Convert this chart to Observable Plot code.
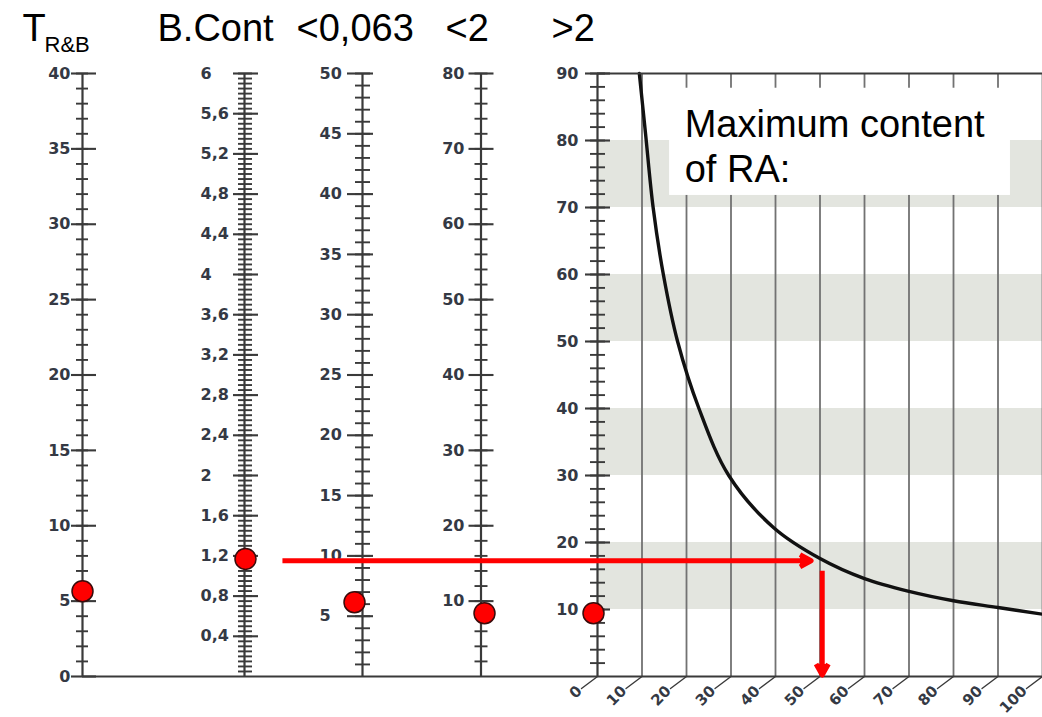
<!DOCTYPE html>
<html>
<head>
<meta charset="utf-8">
<script src="https://cdn.jsdelivr.net/npm/d3@7"></script>
<script src="https://cdn.jsdelivr.net/npm/@observablehq/plot@0.6"></script>
<style>
  html, body { margin: 0; padding: 0; background: #fff; }
  #chart { position: relative; width: 1042px; height: 717px; overflow: hidden; background: #fff; }
  #chart svg { position: absolute; left: 0; top: 0; background: transparent !important; overflow: visible; }
</style>
</head>
<body>
<div id="chart"></div>
<script>
// ---------------- data ----------------
const columnTitles = ["T", "B.Cont", "<0,063", "<2", ">2"];
const columnSubtitle = "R&B";

const tValues = [0, 5, 10, 15, 20, 25, 30, 35, 40];
const tLabels = ["0", "5", "10", "15", "20", "25", "30", "35", "40"];
const bContValues = [0.4, 0.8, 1.2, 1.6, 2, 2.4, 2.8, 3.2, 3.6, 4, 4.4, 4.8, 5.2, 5.6, 6];
const bContLabels = ["0,4", "0,8", "1,2", "1,6", "2", "2,4", "2,8", "3,2", "3,6", "4", "4,4", "4,8", "5,2", "5,6", "6"];
const finesValues = [5, 10, 15, 20, 25, 30, 35, 40, 45, 50];
const finesLabels = ["5", "10", "15", "20", "25", "30", "35", "40", "45", "50"];
const sandValues = [10, 20, 30, 40, 50, 60, 70, 80];
const sandLabels = ["10", "20", "30", "40", "50", "60", "70", "80"];
const gravelValues = [10, 20, 30, 40, 50, 60, 70, 80, 90];
const gravelLabels = ["10", "20", "30", "40", "50", "60", "70", "80", "90"];

const axisMax = [40, 6, 50, 80, 90];
const minorStep = [1, 0.05, 1, 2, 2];
const pointValues = [5.66, 1.17, 6.16, 8.4, 9.45];

const raTicks = [0, 10, 20, 30, 40, 50, 60, 70, 80, 90, 100];
const raLabels = ["0", "10", "20", "30", "40", "50", "60", "70", "80", "90", "100"];
const bandLow = [10, 30, 50, 70];
const bandHigh = [20, 40, 60, 80];

const curveRA = [9.4, 10.8, 12.5, 14.8, 18.0, 22.8, 29.5, 39.6, 50, 60, 70, 80, 90, 100];
const curveMax = [90, 81, 70, 60, 50, 40, 30, 22.2, 17.6, 14.6, 12.7, 11.3, 10.3, 9.3];

const arrowX1 = [-70.8, 50.5];
const arrowY1 = [17.27, 15.8];
const arrowX2 = [48.0, 50.5];
const arrowY2 = [17.27, 0.2];

const boxText = "Maximum content\nof RA:";

// ---------------- layout ----------------
const W = 1042, H = 717, TOP = 73, BOTTOM = 41;
const LABEL_COLOR = "#343944";
const AXIS_COLOR = "#3a3a3a";
const labelFont = {fontFamily: "DejaVu Sans, sans-serif", fontSize: 16, fontWeight: "bold"};
const titleFont = {fontFamily: "Liberation Sans, Arial, sans-serif", fontSize: 38, fontWeight: "normal"};

const columns = [
  {values: tValues, labels: tLabels, axis: 82, majorL: -11, majorR: 14, minorL: -6, minorR: 6,
   labelAnchor: "end", labelDx: -1, titleDx: -49, dotDx: 0},
  {values: bContValues, labels: bContLabels, axis: 244, majorL: -11, majorR: 14, minorL: -6, minorR: 8,
   labelAnchor: "start", labelDx: -33, titleDx: -76, dotDx: 1},
  {values: finesValues, labels: finesLabels, axis: 362, majorL: -15, majorR: 11, minorL: -7, minorR: 8,
   labelAnchor: "start", labelDx: -28, titleDx: -51, dotDx: -8},
  {values: sandValues, labels: sandLabels, axis: 480.5, majorL: -12, majorR: 13, minorL: -6, minorR: 7,
   labelAnchor: "end", labelDx: -4.5, titleDx: -23.5, dotDx: 3.5},
  {values: gravelValues, labels: gravelLabels, axis: 597, majorL: -12, majorR: 13, minorL: -7, minorR: 8,
   labelAnchor: "end", labelDx: -7, titleDx: -34, dotDx: -4}
];

const chart = document.getElementById("chart");
const svgStyle = {position: "absolute", left: "0px", top: "0px", background: "transparent", overflow: "visible"};

// ---------------- main RA panel (background) ----------------
const mainScales = {
  width: W, height: H, marginTop: TOP, marginBottom: BOTTOM, marginLeft: 82, marginRight: 0,
  x: {domain: [0, 100], range: [597, 1042], axis: null},
  y: {domain: [0, 90], axis: null},
  style: svgStyle
};

const curve = curveRA.map((x, i) => ({x, y: curveMax[i]}));

chart.append(Plot.plot({
  ...mainScales,
  marks: [
    Plot.rect(bandLow, {x1: 0, x2: 100, y1: (d) => d, y2: (d, i) => bandHigh[i], fill: "#e3e5df"}),
    Plot.ruleX(raTicks.slice(1), {y1: 0, y2: 90, stroke: "#727272", strokeWidth: 1.8}),
    Plot.rect([0], {x1: 16.2, x2: 92.8, y1: 71.8, y2: 87.8, fill: "#ffffff"}),
    Plot.text([boxText], {x: 19.6, y: 85.3, textAnchor: "start", lineAnchor: "top", lineHeight: 1.18,
      fill: "#000", ...titleFont}),
    Plot.line(curve, {x: "x", y: "y", curve: "catmull-rom", stroke: "#111", strokeWidth: 3.4}),
    Plot.ruleY([90], {x1: 0, x2: 100, stroke: AXIS_COLOR, strokeWidth: 1.8}),
    Plot.ruleY([0], {stroke: AXIS_COLOR, strokeWidth: 1.8}),
    Plot.vector(raTicks, {x: (d) => d, y: 0, length: 20, rotate: 233, anchor: "start", r: 0,
      stroke: AXIS_COLOR, strokeWidth: 1.4}),
    Plot.text(raTicks, {x: (d) => d, y: 0, text: (d, i) => raLabels[i], rotate: -45, textAnchor: "end",
      dx: -18, dy: 12, fill: LABEL_COLOR, ...labelFont, fontSize: 15})
  ]
}));

// ---------------- vertical nomogram axes ----------------
columns.forEach((c, k) => {
  const n = Math.round(axisMax[k] / minorStep[k]);
  const minor = d3.range(1, n + 1).map((i) => +(i * minorStep[k]).toFixed(4));
  const marks = [
    Plot.ruleX([0], {stroke: AXIS_COLOR, strokeWidth: 2.2}),
    Plot.tickY(minor, {y: (d) => d, stroke: AXIS_COLOR, strokeWidth: 1.9,
      insetLeft: c.minorL - c.majorL, insetRight: c.majorR - c.minorR}),
    Plot.tickY(c.values, {y: (d) => d, stroke: AXIS_COLOR, strokeWidth: 2.1}),
    Plot.text(c.values, {y: (d) => d, text: (d, i) => c.labels[i], frameAnchor: "left",
      textAnchor: c.labelAnchor, dx: c.labelDx, fill: LABEL_COLOR, ...labelFont}),
    Plot.text([columnTitles[k]], {frameAnchor: "top-left", textAnchor: "start", lineAnchor: "bottom",
      dx: c.titleDx, dy: -33, fill: "#000", ...titleFont}),
    Plot.dot([pointValues[k]], {x: 0, y: (d) => d, r: 10.5, fill: "#ff0000", stroke: "#3a0b0b",
      strokeWidth: 1.5, dx: c.dotDx})
  ];
  if (k === 0) {
    marks.push(Plot.text([columnSubtitle], {frameAnchor: "top-left", textAnchor: "start", lineAnchor: "bottom",
      dx: -27, dy: -22, fill: "#000", fontFamily: "Liberation Sans, Arial, sans-serif", fontSize: 22}));
  }
  chart.append(Plot.plot({
    width: W, height: H, marginTop: TOP, marginBottom: BOTTOM,
    marginLeft: c.axis + c.majorL, marginRight: W - (c.axis + c.majorR),
    x: {domain: [c.majorL, c.majorR], axis: null},
    y: {domain: [0, axisMax[k]], axis: null},
    style: svgStyle,
    marks
  }));
});

// ---------------- reading arrows (on top) ----------------
const arrows = arrowX1.map((x1, i) => ({x1, y1: arrowY1[i], x2: arrowX2[i], y2: arrowY2[i]}));
chart.append(Plot.plot({
  ...mainScales,
  marks: [
    Plot.arrow(arrows, {x1: "x1", y1: "y1", x2: "x2", y2: "y2", stroke: "#ff0000", fill: "#ff0000",
      strokeWidth: 5, headLength: 3.8, headAngle: 58, strokeLinecap: "butt", strokeLinejoin: "round"})
  ]
}));
</script>
</body>
</html>
